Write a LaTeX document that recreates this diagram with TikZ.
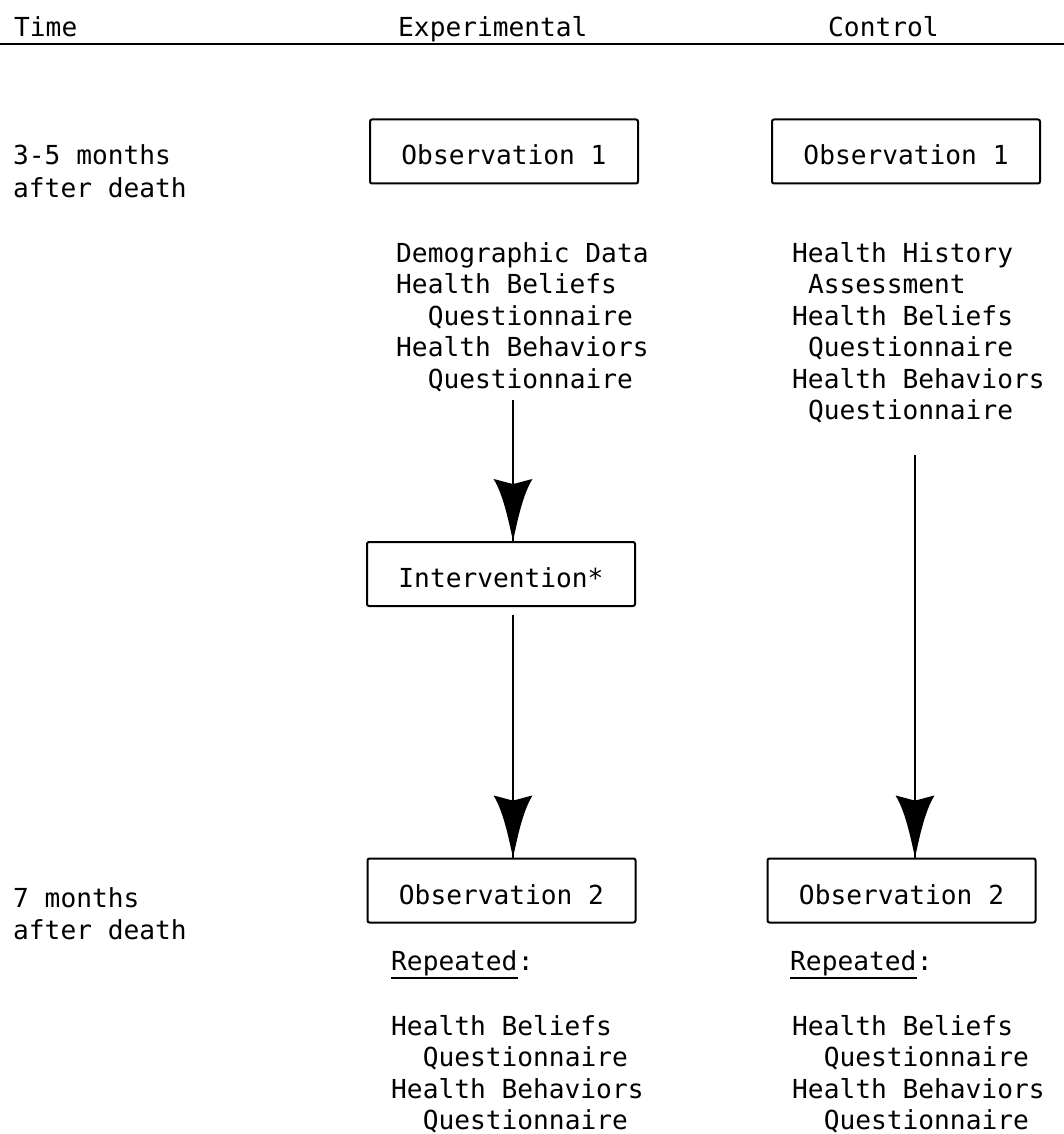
\documentclass[tikz,border=0pt]{standalone}
\usepackage{fontspec}
\newfontfamily\typewr{DejaVu Sans Mono}
\usetikzlibrary{decorations.markings}
\tikzset{
  txt/.style={anchor=base west, inner sep=0pt, font=\typewr\fontsize{26.2}{31.5}\selectfont},
  boxnode/.style={draw, line width=2pt, rounded corners=2pt, minimum width=268pt,
    minimum height=64pt, inner sep=0pt, text height=27pt, text depth=0pt,
    font=\typewr\fontsize{26.2}{31.5}\selectfont},
  rulel/.style={line width=2.5pt},
  uline/.style={line width=2pt},
  conn/.style={line width=2.5pt, postaction=decorate,
    decoration={markings, mark=at position 1 with {
      \fill (0,0) .. controls (-20,4.5) and (-46,9.5) .. (-62,19.5)
        .. controls (-60,11) and (-58,5) .. (-57,0)
        .. controls (-58,-5) and (-60,-11) .. (-62,-19.5)
        .. controls (-46,-9.5) and (-20,-4.5) .. (0,0) -- cycle;}}}
}
\begin{document}
\begin{tikzpicture}[x=1pt,y=-1pt]
\useasboundingbox (0,0) rectangle (1064,1134);
\fill[white] (0,0) rectangle (1064,1134);
% header
\node[txt] (hTime) at (14,37) {Time};
\node[txt] (hExp) at (398,37) {Experimental};
\node[txt] (hCon) at (828,37) {Control};
\coordinate (ruleL) at (0,44);
\coordinate (ruleR) at (1064,44);
\draw[rulel] (ruleL) -- (ruleR);
% time labels
\node[txt] (t1a) at (13,165) {3-5 months};
\node[txt] (t1b) at (13,197) {after death};
\node[txt] (t2a) at (13,907) {7 months};
\node[txt] (t2b) at (13,939) {after death};
% boxes
\node[boxnode] (obs1e) at (504,151.5) {Observation 1};
\node[boxnode] (obs1c) at (906,151.5) {Observation 1};
\node[boxnode] (intv) at (501,574) {Intervention*};
\node[boxnode] (obs2e) at (501.5,890.5) {Observation 2};
\node[boxnode] (obs2c) at (901.5,890.5) {Observation 2};
% experimental list
\foreach \t/\yy/\dx [count=\i] in {Demographic Data/262/0, Health Beliefs/293.5/0,
  Questionnaire/325/31.6, Health Behaviors/356.5/0, Questionnaire/388/31.6}
  \node[txt] (ex\i) at (396+\dx,\yy) {\t};
% control list
\foreach \t/\yy/\dx [count=\i] in {Health History/262/0, Assessment/293.5/15.8,
  Health Beliefs/325/0, Questionnaire/356.5/15.8, Health Behaviors/388/0,
  Questionnaire/419.5/15.8}
  \node[txt] (cx\i) at (792+\dx,\yy) {\t};
% repeated
\node[txt] (repE) at (391,970) {Repeated};
\node[txt] (repEc) at (repE.base east) {:};
\draw[uline] ([yshift=-8pt]repE.base west) -- ([yshift=-8pt]repE.base east);
\node[txt] (repC) at (790,970) {Repeated};
\node[txt] (repCc) at (repC.base east) {:};
\draw[uline] ([yshift=-8pt]repC.base west) -- ([yshift=-8pt]repC.base east);
\foreach \t/\yy/\dx [count=\i] in {Health Beliefs/1035/0, Questionnaire/1066.5/31.6,
  Health Behaviors/1098/0, Questionnaire/1129.5/31.6}
  {\node[txt] (re\i) at (391+\dx,\yy) {\t};
   \node[txt] (rc\i) at (792+\dx,\yy) {\t};}
% connectors
\coordinate (a1s) at (513,400);
\coordinate (a2s) at (513,615);
\coordinate (a3s) at (915,455);
\draw[conn] (a1s) -- (a1s |- intv.north);
\draw[conn] (a2s) -- (a2s |- obs2e.north);
\draw[conn] (a3s) -- (a3s |- obs2c.north);
\end{tikzpicture}
\end{document}
